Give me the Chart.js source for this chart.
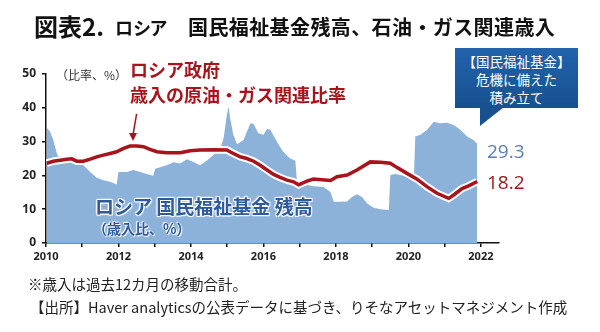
<!DOCTYPE html>
<html>
<head>
<meta charset="utf-8">
<script src="https://cdn.jsdelivr.net/npm/chart.js@4/dist/chart.umd.min.js"></script>
<style>
  body { margin: 0; background: #fff; }
  #wrap { position: relative; width: 600px; height: 332px; overflow: hidden; font-family: "Noto Sans CJK JP", sans-serif; }
  #myChart { position: absolute; left: 0; top: 0; }
  .txt { position: absolute; white-space: nowrap; line-height: 1; }
  .title { font-weight: 700; color: #111; }
  .unit { left: 56px; top: 69px; font-size: 12px; color: #333; }
  .oil { left: 130px; top: 57px; font-size: 18px; font-weight: 700; color: #a8141c; line-height: 25px; }
  .fund { left: 95px; top: 196px; font-size: 19px; font-weight: 700; color: #2c5a9c;
          text-shadow: 0 0 2px #fff, 1px 1px 1px #fff, -1px -1px 1px #fff, 1px -1px 1px #fff, -1px 1px 1px #fff; }
  .fund2 { left: 93px; top: 221px; font-size: 14px; font-weight: 700; color: #2c5a9c;
           text-shadow: 0 0 2px #fff, 1px 1px 1px #fff, -1px -1px 1px #fff; }
  .val { left: 487px; font-family: "Open Sans", sans-serif; font-size: 19px; }
  .callout { position: absolute; left: 455px; top: 48px; width: 123px; height: 60px;
             background: linear-gradient(#2263ad, #17518f); color: #fff; font-size: 13.5px;
             text-align: center; line-height: 18px; padding-top: 4px; box-sizing: border-box; }
  .tail { position: absolute; left: 480px; top: 107px; width: 0; height: 0;
          border-top: 19px solid #17518f; border-right: 24px solid transparent; }
  .note { left: 28px; font-size: 14.5px; color: #222; }
</style>
</head>
<body>
<div id="wrap">
  <canvas id="myChart" width="600" height="332"></canvas>
  <div class="txt title" style="left:34px;top:14px;font-size:24px;">図表2.</div>
  <div class="txt title" style="left:115px;top:18px;font-size:18px;font-feature-settings:'palt';">ロシア</div>
  <div class="txt title" style="left:188px;top:17px;font-size:20px;letter-spacing:0.4px;">国民福祉基金残高、石油・ガス関連歳入</div>
  <div class="txt unit">（比率、%）</div>
  <div class="txt oil">ロシア政府<br>歳入の原油・ガス関連比率</div>
  <div class="txt fund">ロシア 国民福祉基金 残高</div>
  <div class="txt fund2">（歳入比、%）</div>
  <div class="callout">【国民福祉基金】<br>危機に備えた<br>積み立て</div>
  <div class="tail"></div>
  <div class="txt val" style="top:142px;color:#5a7db5;">29.3</div>
  <div class="txt val" style="top:173px;color:#a8141c;">18.2</div>
  <div class="txt note" style="top:277px;">※歳入は過去12カ月の移動合計。</div>
  <div class="txt note" style="top:300px;left:30px;">【出所】Haver analyticsの公表データに基づき、りそなアセットマネジメント作成</div>
</div>
<script>
// National Wellbeing Fund balance, % of budget revenue
const fundDates = [2010.02, 2010.11, 2010.2, 2010.3, 2010.34, 2010.52, 2010.66, 2010.8, 2010.89, 2011.03,
    2011.22, 2011.4, 2011.58, 2011.77, 2011.95, 2012.0, 2012.23, 2012.41, 2012.6, 2012.78,
    2012.96, 2013.01, 2013.33, 2013.52, 2013.7, 2013.89, 2014.07, 2014.25, 2014.44, 2014.62,
    2014.81, 2014.9, 2014.99, 2015.04, 2015.08, 2015.17, 2015.27, 2015.45, 2015.64, 2015.73,
    2015.86, 2016.0, 2016.1, 2016.19, 2016.37, 2016.51, 2016.6, 2016.74, 2016.88, 2016.93,
    2017.02, 2017.38, 2017.66, 2017.85, 2017.94, 2018.12, 2018.31, 2018.44, 2018.58, 2018.72,
    2018.86, 2019.04, 2019.23, 2019.46, 2019.5, 2019.64, 2019.87, 2020.15, 2020.19, 2020.33,
    2020.52, 2020.7, 2020.88, 2021.07, 2021.25, 2021.44, 2021.62, 2021.8, 2021.9];
const fundValues = [34.1, 33, 30.5, 26.5, 25.7, 25.5, 26, 25.8, 25, 23,
    21, 19.3, 18.6, 18.1, 17.3, 21, 21, 21.6, 21, 20.4,
    19.9, 22, 23, 23.9, 23.5, 24.8, 24, 23, 24.4, 26,
    28, 31, 37.9, 40.4, 36.9, 32, 29.2, 30.5, 35.4, 35.2,
    32.5, 32, 33.7, 33.5, 30, 27.5, 26.3, 25, 24.3, 17.6,
    17.6, 16.8, 16.6, 15.1, 12.2, 12.2, 12.3, 13.6, 14.4, 13.6,
    11.7, 10.4, 10, 9.8, 20.1, 20.4, 19.9, 18.8, 31.5, 32,
    33.5, 35.9, 35.4, 35.6, 34.9, 33.4, 31.5, 30.5, 29.3];

// Oil & gas share of federal revenue, %
const oilDates = [2010.02, 2010.2, 2010.39, 2010.57, 2010.71, 2010.85, 2011.03, 2011.22, 2011.4, 2011.58,
    2011.77, 2011.95, 2012.14, 2012.32, 2012.51, 2012.69, 2012.87, 2013.06, 2013.33, 2013.7,
    2013.98, 2014.25, 2014.62, 2014.99, 2015.17, 2015.36, 2015.54, 2015.73, 2015.91, 2016.1,
    2016.28, 2016.46, 2016.65, 2016.83, 2016.97, 2017.2, 2017.38, 2017.85, 2018.03, 2018.31,
    2018.58, 2018.95, 2019.23, 2019.5, 2019.69, 2019.96, 2020.24, 2020.52, 2020.79, 2021.11,
    2021.25, 2021.48, 2021.66, 2021.9];
const oilValues = [23.6, 24.2, 24.5, 24.8, 24.9, 24.2, 24.2, 24.8, 25.5, 26,
    26.5, 27, 28, 28.7, 28.7, 28.5, 27.7, 27, 26.7, 26.7,
    27.3, 27.5, 27.6, 27.5, 26.5, 25.5, 25, 24.2, 23, 21.6,
    20.3, 19.4, 18.6, 18.1, 17.2, 18.3, 18.9, 18.5, 19.6, 20.1,
    21.6, 24, 23.9, 23.6, 22.3, 20.6, 18.9, 16.6, 14.7, 13.2,
    14.2, 16.1, 16.9, 18.2];

// a tick mark every year, a label every other year
const tickYears = [2010, 2011, 2012, 2013, 2014, 2015, 2016, 2017, 2018, 2019, 2020, 2021, 2022];
const labelYears = [2010, 2012, 2014, 2016, 2018, 2020, 2022];

const toPoints = (xs, ys) => xs.map((x, i) => ({ x: x, y: ys[i] }));

const oilPoints = toPoints(oilDates, oilValues);

// small arrow from the red label down to the 2012 peak
const arrowPlugin = {
    id: 'arrow',
    afterDatasetsDraw(chart) {
        const ctx = chart.ctx;
        const xs = chart.scales.x, ys = chart.scales.y;
        const x0 = xs.getPixelForValue(2012.5), y0 = ys.getPixelForValue(38.2);
        const x1 = xs.getPixelForValue(2012.4), y1 = ys.getPixelForValue(30.2);
        ctx.save();
        ctx.strokeStyle = '#a8141c';
        ctx.fillStyle = '#a8141c';
        ctx.lineWidth = 1.5;
        ctx.beginPath();
        ctx.moveTo(x0, y0);
        ctx.lineTo(x1, y1 - 6);
        ctx.stroke();
        ctx.beginPath();
        ctx.moveTo(x1 - 4, y1 - 8);
        ctx.lineTo(x1 + 4, y1 - 8);
        ctx.lineTo(x1, y1);
        ctx.closePath();
        ctx.fill();
        ctx.restore();
    }
};

const chart = new Chart(document.getElementById('myChart').getContext('2d'), {
    type: 'line',
    data: {
        datasets: [
            {
                data: oilPoints,
                borderColor: '#a8141c',
                borderWidth: 3.5,
                pointRadius: 0,
                fill: false,
                order: 1
            },
            {
                // white halo under the red line
                data: oilPoints,
                borderColor: '#ffffff',
                borderWidth: 7.5,
                pointRadius: 0,
                fill: false,
                order: 2
            },
            {
                data: toPoints(fundDates, fundValues),
                borderWidth: 0,
                borderColor: 'rgba(0,0,0,0)',
                backgroundColor: '#8db2d9',
                pointRadius: 0,
                fill: 'origin',
                order: 3
            }
        ]
    },
    options: {
        responsive: false,
        animation: false,
        layout: { padding: { left: 0, top: 74, right: 101, bottom: 59 } },
        plugins: { legend: { display: false }, tooltip: { enabled: false } },
        scales: {
            x: {
                type: 'linear',
                min: 2010,
                max: 2022.5,
                afterBuildTicks: (scale) => {
                    scale.ticks = tickYears.map(v => ({ value: v }));
                },
                afterFit: (scale) => { scale.height = 30; },
                ticks: {
                    autoSkip: false,
                    maxRotation: 0,
                    padding: 3,
                    color: '#222',
                    font: { family: 'Noto Sans', size: 11, weight: 'bold' },
                    callback: (v) => labelYears.includes(v) ? String(v) : ''
                },
                grid: { drawOnChartArea: false, drawTicks: true, tickLength: 4, color: '#111', lineWidth: 1.5 },
                border: { color: '#111', width: 1.5 }
            },
            y: {
                min: 0,
                max: 50,
                afterFit: (scale) => { scale.width = 46; },
                ticks: {
                    stepSize: 10,
                    padding: 6,
                    color: '#222',
                    font: { family: 'Noto Sans', size: 12, weight: 'bold' }
                },
                grid: { drawOnChartArea: false, drawTicks: true, tickLength: 4, color: '#111', lineWidth: 1.5 },
                border: { color: '#111', width: 1.5 }
            }
        }
    },
    plugins: [arrowPlugin]
});
</script>
</body>
</html>
